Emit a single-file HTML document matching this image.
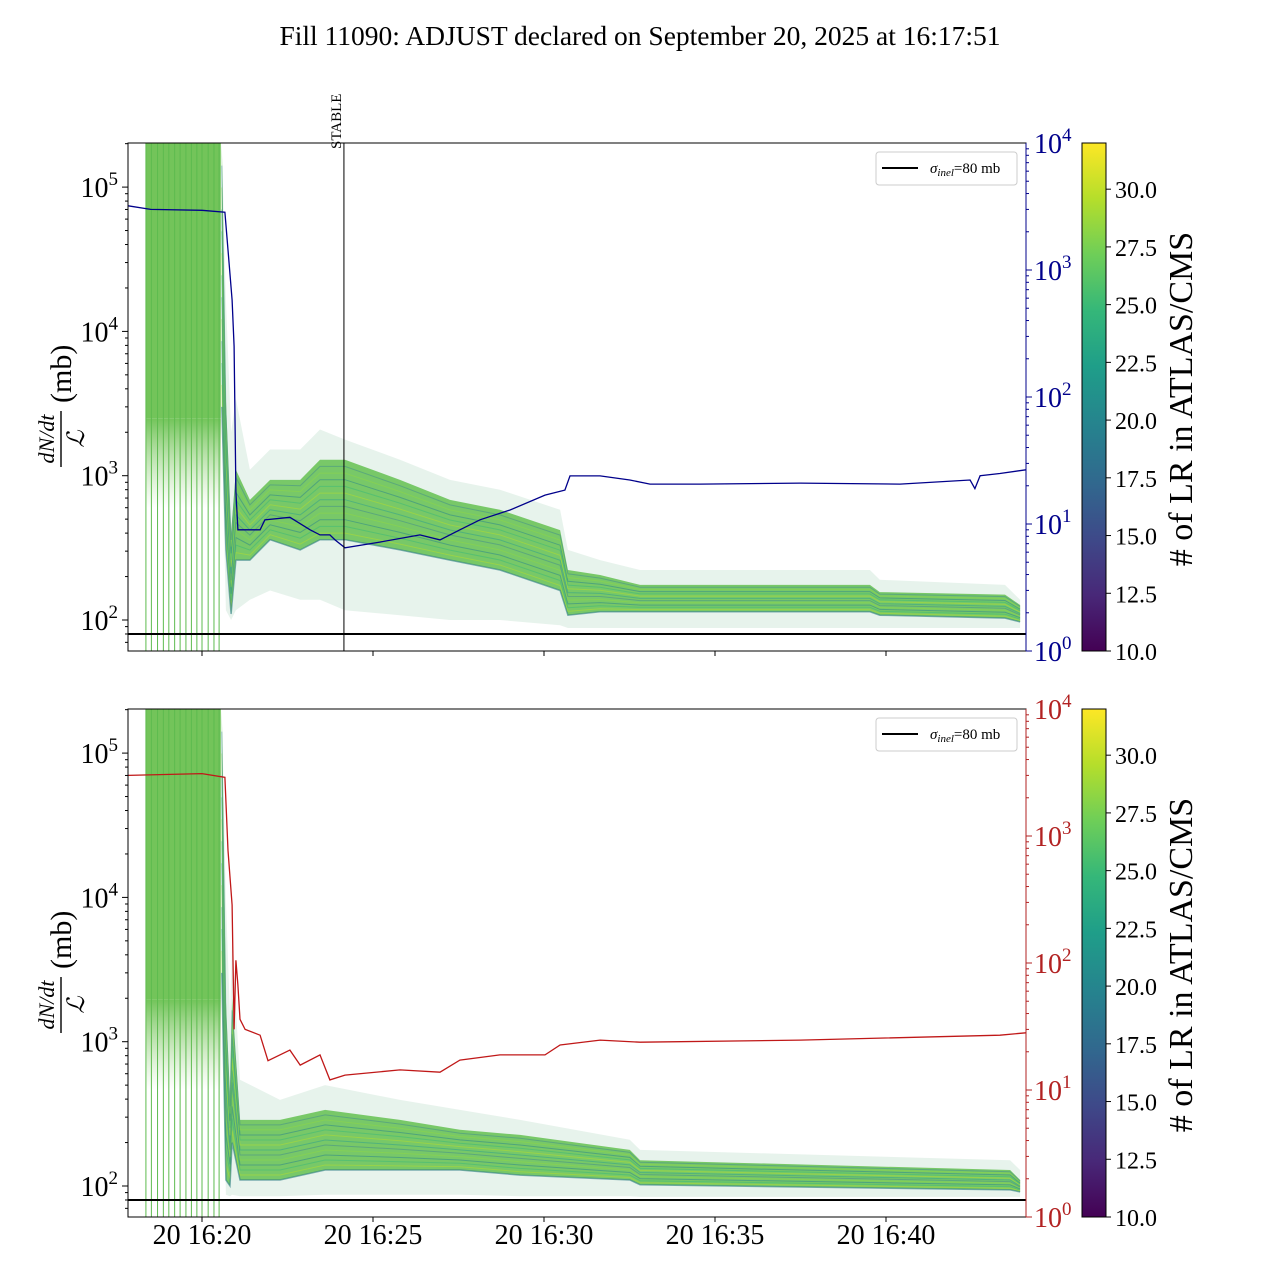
<!DOCTYPE html>
<html><head><meta charset="utf-8"><style>
body{margin:0;background:#fff}
svg{display:block;font-family:"Liberation Serif","DejaVu Serif",serif}
</style></head><body>
<svg id="c" width="1280" height="1280" viewBox="0 0 1280 1280">
<defs>
<linearGradient id="vir" x1="0" y1="1" x2="0" y2="0">
<stop offset="0" stop-color="#440154"/><stop offset="0.11" stop-color="#482878"/><stop offset="0.22" stop-color="#3e4989"/><stop offset="0.33" stop-color="#31688e"/><stop offset="0.44" stop-color="#26828e"/><stop offset="0.56" stop-color="#1f9e89"/><stop offset="0.67" stop-color="#35b779"/><stop offset="0.78" stop-color="#6ece58"/><stop offset="0.89" stop-color="#b5de2b"/><stop offset="1" stop-color="#fde725"/>
</linearGradient>
<linearGradient id="fade" x1="0" y1="0" x2="0" y2="1">
<stop offset="0" stop-color="#73c45a" stop-opacity="1"/><stop offset="1" stop-color="#a8d890" stop-opacity="0"/>
</linearGradient>
<clipPath id="cp0"><rect x="128" y="143" width="898" height="508"/></clipPath>
<clipPath id="cp1"><rect x="128" y="709" width="898" height="508"/></clipPath>
</defs>
<text x="640" y="45" text-anchor="middle" font-size="27.5">Fill 11090: ADJUST declared on September 20, 2025 at 16:17:51</text>
</svg>
<script>
// minutes relative to 16:20
const xTicks=[0,5,10,15,20];
const xTickLabels=["20 16:20","20 16:25","20 16:30","20 16:35","20 16:40"];
const leftTicks=[2,3,4,5];
const rightTicks=[0,1,2,3,4];
const cbTicks=[10,12.5,15,17.5,20,22.5,25,27.5,30];
const sigmaInel=80;
const stableTime=4.15;
const spikeTimes=[-1.64,-1.48,-1.30,-1.13,-0.97,-0.80,-0.64,-0.47,-0.31,-0.15,0.0,0.18,0.35,0.50];
// top panel band: time, outer top, core top, core bottom, outer bottom (mb)
const bandT0=[0.58,0.70,0.85,0.99,1.40,1.99,2.87,3.45,4.18,5.79,7.25,8.71,10.47,10.70,11.64,12.81,19.53,19.82,23.48,23.92];
const outerTop0=[200000,16600,2000,3400,1100,1520,1520,2090,1780,1290,935,800,580,306,260,222,222,190,175,138];
const coreTop0=[200000,3400,400,1100,680,935,935,1290,1290,935,680,580,420,222,205,175,175,156,150,127];
const coreBot0=[3000,306,110,260,260,360,306,360,360,306,260,222,160,108,114,114,114,108,103,97];
const outerBot0=[2000,117,100,117,138,160,138,138,117,108,100,100,92,88,88,88,88,88,88,88];
// bottom panel band
const bandT1=[0.58,0.70,0.82,0.88,1.11,2.28,3.60,5.79,7.54,9.30,12.51,12.81,23.63,23.92];
const outerTop1=[200000,9700,1500,5000,545,395,500,395,337,287,209,178,151,129];
const coreTop1=[200000,1950,400,2000,287,287,337,287,245,226,178,151,129,110];
const coreBot1=[3000,110,100,200,110,110,129,129,129,119,110,102,94,91];
const outerBot1=[2000,87,85,87,85,85,87,87,87,85,85,84,84,84];
// beam curves (right axis)
const blueT=[-2.16,-1.5,0,0.67,0.76,0.88,0.94,0.99,1.05,1.70,1.84,2.57,3.16,3.45,3.74,3.89,4.18,5.20,6.37,6.96,7.54,8.13,9.01,10.03,10.61,10.76,11.64,12.51,13.10,14.56,17.49,20.41,22.46,22.60,22.75,23.33,24.09];
const blueV=[3200,3000,2950,2850,1440,580,250,18,9,9,10.8,11.3,9,8.2,8.2,7.5,6.5,7.2,8.2,7.5,9,10.8,12.9,16.9,18.5,23.9,23.9,22.2,20.6,20.6,21,20.6,22.2,19,24,25,26.7];
const redT=[-2.16,0,0.67,0.76,0.88,0.94,0.99,1.05,1.11,1.26,1.70,1.93,2.57,2.87,3.45,3.74,4.18,5.79,6.96,7.54,8.71,10.03,10.47,11.64,12.81,17.49,23.33,24.09];
const redV=[3000,3100,2900,770,286,30,105,67,36,30,27,17,20.6,15.7,18.9,12,13.1,14.4,13.8,17.2,18.9,18.9,22.6,24.7,23.8,24.7,27,28.2];

const svg=document.getElementById('c');
const NS='http://www.w3.org/2000/svg';
function mk(tag,at,parent){const e=document.createElementNS(NS,tag);for(const k in at)e.setAttribute(k,at[k]);(parent||svg).appendChild(e);return e;}
const X0=128,X1=1026;
function xs(m){return 202+m*34.2;}
function pathOf(ts,vs,fx,fy){return ts.map((t,i)=>(i?'L':'M')+fx(t).toFixed(1)+','+fy(vs[i]).toFixed(1)).join('');}

function panel(p){
  const top=p?709:143, bot=top+508;
  const yl=v=>top+477-(Math.log10(v)-2)*144.3;
  const yr=v=>bot-Math.log10(v)*127;
  const g=mk('g',{'clip-path':`url(#cp${p})`});
  
  
  const T=p?bandT1:bandT0,OT=p?outerTop1:outerTop0,CT=p?coreTop1:coreTop0,CB=p?coreBot1:coreBot0,OB=p?outerBot1:outerBot0;
  const ySp=yl(p?1950:2500);
  const sp=mk('rect',{x:xs(spikeTimes[0]),y:top,width:xs(0.55)-xs(spikeTimes[0]),height:ySp-top,fill:'#73c45a'},g);
  
  
  const sp2=mk('rect',{x:xs(spikeTimes[0]),y:ySp,width:xs(0.55)-xs(spikeTimes[0]),height:90,fill:'url(#fade)'},g);
  
  
  spikeTimes.forEach(t=>{const l=mk('line',{x1:xs(t),x2:xs(t),y1:top,y2:bot,stroke:'#5dbb4f','stroke-width':1},g);
    
    });
  const outerD=pathOf(T,OT,xs,yl)+pathOf(T.slice().reverse(),OB.slice().reverse(),xs,yl).replace('M','L')+'Z';
  const ob=mk('path',{d:outerD,fill:'#b9dcc9',opacity:0.35},g);
  
  
  const coreD=pathOf(T,CT,xs,yl)+pathOf(T.slice().reverse(),CB.slice().reverse(),xs,yl).replace('M','L')+'Z';
  const cb=mk('path',{d:coreD,fill:'#6cc35a',opacity:0.9},g);
  
  
  const cols=['#2a9d8f','#b5de2b','#35b779','#26828e','#8fd744','#3e8a8e'];
  for(let k=1;k<12;k++){const f=k/12;
    const vs=T.map((t,i)=>Math.pow(10,Math.log10(CB[i])*(1-f)+Math.log10(CT[i])*f));
    const l=mk('path',{d:pathOf(T,vs,xs,yl),fill:'none',stroke:cols[k%6],'stroke-width':1,opacity:0.5},g);
    
    }
  const dl=mk('path',{d:pathOf(T,CB,xs,yl),fill:'none',stroke:'#2f7f86','stroke-width':1.5,opacity:0.6},g);
  
  
  const sl=mk('line',{x1:X0,x2:X1,y1:yl(sigmaInel),y2:yl(sigmaInel),stroke:'#000','stroke-width':2},g);
  
  
  const bc=mk('path',{d:pathOf(p?redT:blueT,p?redV:blueV,xs,yr),fill:'none',stroke:p?'#c01818':'#00008b','stroke-width':1.3},g);
  
  
  if(!p){const st=mk('line',{x1:xs(stableTime),x2:xs(stableTime),y1:top,y2:bot,stroke:'#000','stroke-width':1});
    
    
    const tx=mk('text',{x:0,y:0,'font-size':15,transform:`translate(${xs(stableTime)-3},149) rotate(-90)`});
    tx.textContent='STABLE';
    
    }
  const fr=mk('rect',{x:X0,y:top,width:X1-X0,height:508,fill:'none',stroke:'#000','stroke-width':1});
  
  
  xTicks.forEach((t,i)=>{const x=xs(t);
    const tk=mk('line',{x1:x,x2:x,y1:bot,y2:bot+5,stroke:'#000'});
    
    
    if(p){const lb=mk('text',{x:x,y:bot+27,'text-anchor':'middle','font-size':28});lb.textContent=xTickLabels[i];
      
      }});
  for(let d=1;d<=5;d++)for(let m=1;m<10;m++){const v=m*Math.pow(10,d);const y=yl(v);if(y<top||y>bot)continue;
    const tk=mk('line',{x1:X0-(m==1?6:3),x2:X0,y1:y,y2:y,stroke:'#000'});
    
    }
  leftTicks.forEach(e=>{const y=yl(Math.pow(10,e));
    const t=mk('text',{x:118,y:y+10,'text-anchor':'end','font-size':28});
    t.innerHTML=`10<tspan dy="-12" font-size="19">${e}</tspan>`;
    
    });
  const rc=p?'#b22222':'#00008b';
  for(let d=0;d<4;d++)for(let m=1;m<10;m++){const y=yr(m*Math.pow(10,d));
    const tk=mk('line',{x1:X1,x2:X1+(m==1?6:3),y1:y,y2:y,stroke:rc});
    
    }
  const rl=mk('line',{x1:X1,x2:X1,y1:top,y2:bot,stroke:rc});
  
  
  rightTicks.forEach(e=>{const y=yr(Math.pow(10,e));
    const t=mk('text',{x:1034,y:y+10,'font-size':28,fill:rc});
    t.innerHTML=`10<tspan dy="-12" font-size="19">${e}</tspan>`;
    
    });
  const yg=mk('g',{transform:`translate(62,${top+256}) rotate(-90)`});
  
  
  const a=mk('text',{x:-40,y:-8,'text-anchor':'middle','font-size':22,'font-style':'italic'},yg);a.textContent='dN/dt';
  mk('line',{x1:-68,x2:-12,y1:-1,y2:-1,stroke:'#000','stroke-width':1.4},yg);
  const b=mk('text',{x:-40,y:22,'text-anchor':'middle','font-size':24,'font-style':'italic'},yg);b.textContent='ℒ';
  const c=mk('text',{x:-4,y:9,'font-size':30},yg);c.textContent='(mb)';
  const lg=mk('g',{});
  
  
  mk('rect',{x:876,y:top+9,width:141,height:33,rx:3,fill:'#fff',stroke:'#ccc'},lg);
  mk('line',{x1:882,x2:918,y1:top+25,y2:top+25,stroke:'#000','stroke-width':2},lg);
  const lt=mk('text',{x:930,y:top+30,'font-size':15},lg);
  lt.innerHTML='<tspan font-style="italic">σ</tspan><tspan font-size="11" dy="3" font-style="italic">inel</tspan><tspan dy="-3">=80 mb</tspan>';
  const cyT=top, cyB=bot;
  const cbv=v=>cyB-(v-10)/22*(cyB-cyT);
  const cr=mk('rect',{x:1082,y:cyT,width:24,height:508,fill:'url(#vir)',stroke:'#000'});
  
  
  cbTicks.forEach(v=>{const y=cbv(v);mk('line',{x1:1106,x2:1111,y1:y,y2:y,stroke:'#000'});
    const t=mk('text',{x:1115,y:y+9,'font-size':24});t.textContent=v.toFixed(1);
    
    });
  const ct=mk('text',{x:0,y:0,'font-size':34,'text-anchor':'middle',transform:`translate(1192,${top+256}) rotate(-90)`});
  ct.textContent='# of LR in ATLAS/CMS';
  
  
}
panel(0);panel(1);
</script>
</body></html>
